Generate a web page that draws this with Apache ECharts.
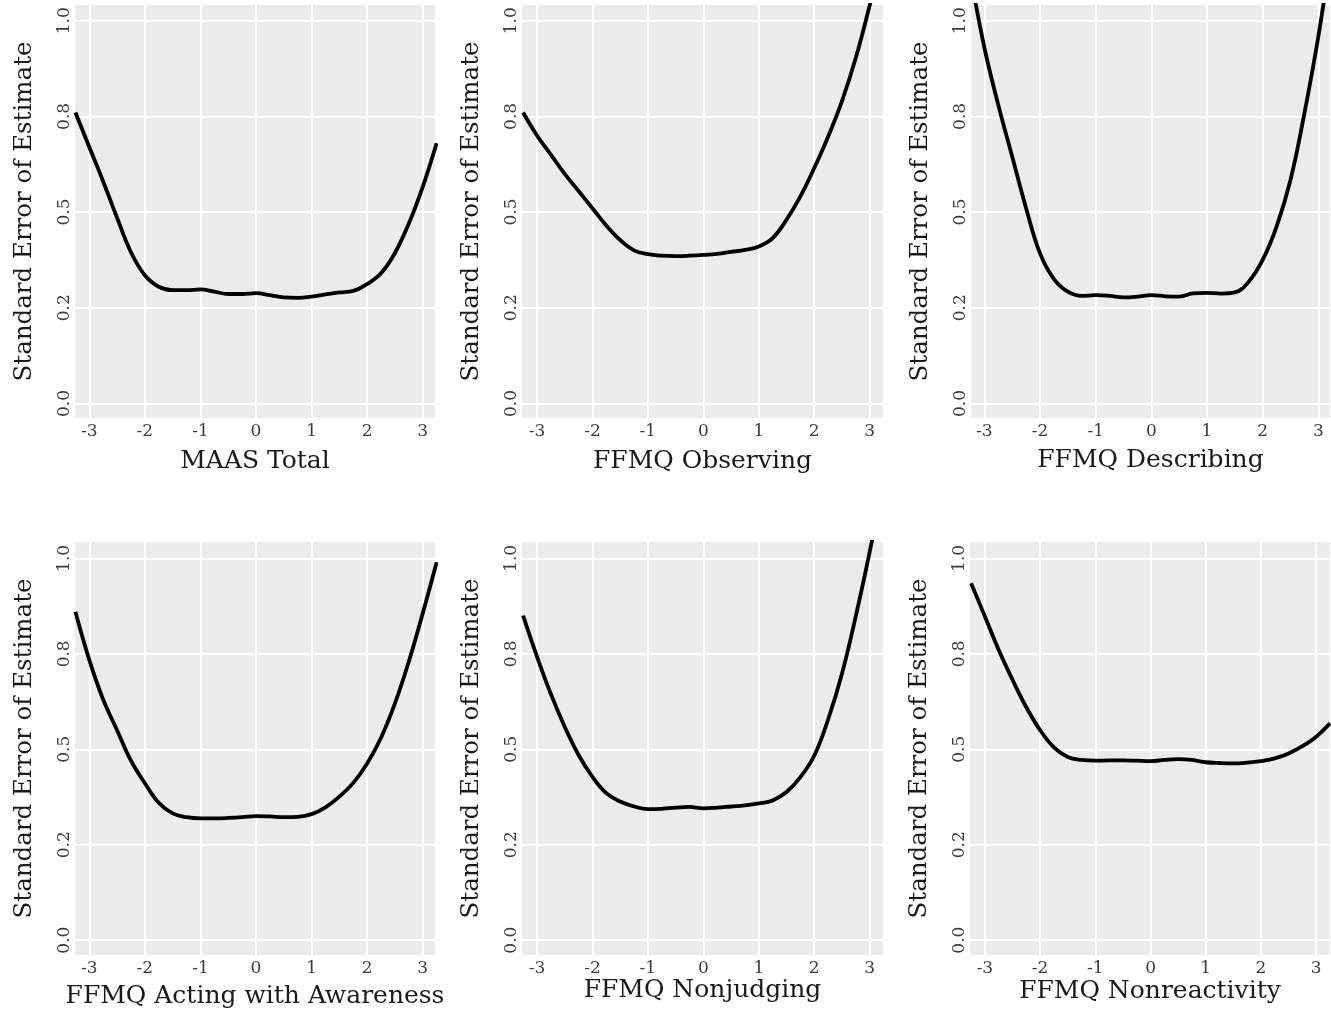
<!DOCTYPE html>
<html>
<head>
<meta charset="utf-8">
<script src="https://cdn.jsdelivr.net/npm/echarts@6/dist/echarts.min.js"></script>
<style>
html,body{margin:0;padding:0;background:#fff;}
#chart{width:1331px;height:1021px;}
</style>
</head>
<body>
<div id="chart"></div>
<script>
// ---- data ----
const theta = [-3.25,-3,-2.75,-2.5,-2.25,-2,-1.75,-1.5,-1.25,-1,-0.75,-0.5,-0.25,0,0.25,0.5,0.75,1,1.25,1.5,1.75,2,2.25,2.5,2.75,3,3.25];
const panelTitles = ["MAAS Total","FFMQ Observing","FFMQ Describing","FFMQ Acting with Awareness","FFMQ Nonjudging","FFMQ Nonreactivity"];
const yTitle = "Standard Error of Estimate";
const seMAAS = [0.76,0.67,0.58,0.485,0.395,0.335,0.305,0.296,0.296,0.298,0.292,0.286,0.286,0.288,0.283,0.277,0.276,0.279,0.285,0.290,0.294,0.312,0.340,0.393,0.470,0.566,0.68];
const seObserving = [0.76,0.70,0.65,0.60,0.555,0.51,0.465,0.427,0.40,0.390,0.386,0.385,0.386,0.388,0.391,0.396,0.401,0.410,0.432,0.48,0.541,0.615,0.697,0.79,0.903,1.04,1.19];
const seDescribing = [1.12,0.93,0.78,0.645,0.51,0.392,0.325,0.292,0.281,0.283,0.281,0.277,0.279,0.283,0.280,0.279,0.2875,0.289,0.287,0.290,0.318,0.375,0.462,0.584,0.758,0.958,1.2];
const seActing = [0.86,0.734,0.63,0.55,0.47,0.411,0.36,0.332,0.322,0.319,0.319,0.320,0.322,0.325,0.324,0.322,0.323,0.330,0.348,0.376,0.412,0.463,0.53,0.62,0.73,0.856,0.99];
const seNonjudging = [0.85,0.743,0.645,0.559,0.485,0.428,0.385,0.363,0.350,0.343,0.344,0.347,0.349,0.345,0.347,0.350,0.353,0.358,0.366,0.388,0.427,0.483,0.578,0.698,0.849,1.017,1.2];
const seNonreactivity = [0.935,0.848,0.76,0.682,0.61,0.550,0.505,0.480,0.472,0.470,0.471,0.471,0.470,0.469,0.472,0.474,0.472,0.466,0.464,0.463,0.465,0.469,0.476,0.489,0.508,0.533,0.568];
const xTickValues = [-3,-2,-1,0,1,2,3];
const xTickLabels = ["-3","-2","-1","0","1","2","3"];
const yTickValues = [0,0.25,0.5,0.75,1];
const yTickLabels = ["0.0","0.2","0.5","0.8","1.0"];

const seriesData = [seMAAS, seObserving, seDescribing, seActing, seNonjudging, seNonreactivity];

// ---- layout ----
const layout = [
  {left:75,  top:5,   width:360, height:413, xMin:-3.257, xMax:3.221, yMin:-0.038, yMax:1.041, nameGap:31},
  {left:522, top:5,   width:361, height:413, xMin:-3.27,  xMax:3.24,  yMin:-0.038, yMax:1.041, nameGap:31},
  {left:971, top:5,   width:359, height:413, xMin:-3.24,  xMax:3.21,  yMin:-0.038, yMax:1.041, nameGap:30},
  {left:75,  top:542, width:360, height:413, xMin:-3.257, xMax:3.221, yMin:-0.039, yMax:1.043, nameGap:29},
  {left:522, top:542, width:361, height:413, xMin:-3.27,  xMax:3.24,  yMin:-0.039, yMax:1.043, nameGap:20},
  {left:970, top:542, width:360, height:413, xMin:-3.27,  xMax:3.25,  yMin:-0.039, yMax:1.043, nameGap:24}
];

const FONT = "DejaVu Serif";
const grids = [], xAxes = [], yAxes = [], series = [];
layout.forEach((L, i) => {
  grids.push({left:L.left, top:L.top, width:L.width, height:L.height, show:true, backgroundColor:'#EBEBEB', borderWidth:0, containLabel:false});
  xAxes.push({
    type:'value', gridIndex:i, min:L.xMin, max:L.xMax,
    name: panelTitles[i], nameLocation:'middle', nameGap:L.nameGap,
    nameTextStyle:{fontFamily:FONT, fontSize:25, color:'#1a1a1a'},
    axisLine:{show:false},
    axisTick:{show:false, customValues:xTickValues},
    axisLabel:{customValues:xTickValues, margin:5, fontFamily:FONT, fontSize:17, color:'#3a3a3a',
      formatter:(v)=>{const k=xTickValues.indexOf(Math.round(v)); return k>=0?xTickLabels[k]:'';}},
    splitLine:{show:true, lineStyle:{color:'#ffffff', width:2}}
  });
  yAxes.push({
    type:'value', gridIndex:i, min:L.yMin, max:L.yMax,
    name: yTitle, nameLocation:'middle', nameGap:38, nameRotate:90,
    nameTextStyle:{fontFamily:FONT, fontSize:24.5, color:'#1a1a1a'},
    axisLine:{show:false},
    axisTick:{show:false, customValues:yTickValues},
    axisLabel:{customValues:yTickValues, margin:2, rotate:90, fontFamily:FONT, fontSize:17, color:'#3a3a3a',
      formatter:(v)=>{let k=-1; yTickValues.forEach((t,j)=>{if(Math.abs(t-v)<1e-6)k=j;}); return k>=0?yTickLabels[k]:'';}},
    splitLine:{show:true, lineStyle:{color:'#ffffff', width:2}}
  });
  series.push({
    type:'line', xAxisIndex:i, yAxisIndex:i,
    data: theta.map((x,j)=>[x, seriesData[i][j]]),
    smooth:0.4, showSymbol:false, clip:true,
    lineStyle:{color:'#000000', width:3.8},
    silent:true
  });
});

const chart = echarts.init(document.getElementById('chart'), null, {renderer:'canvas'});
chart.setOption({
  animation:false,
  backgroundColor:'#ffffff',
  grid:grids, xAxis:xAxes, yAxis:yAxes, series:series
});
</script>
</body>
</html>
